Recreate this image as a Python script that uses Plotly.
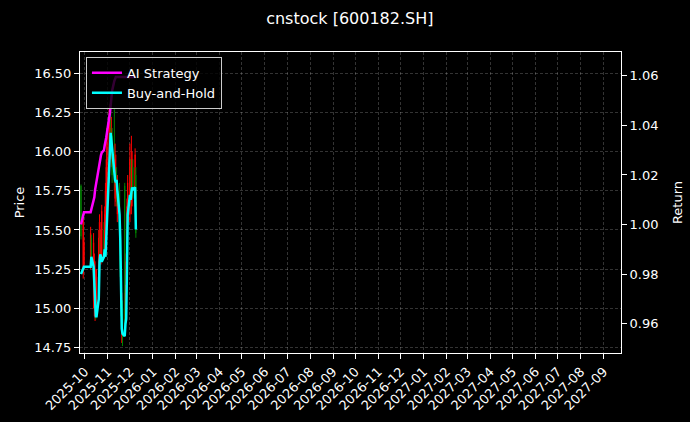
import plotly.graph_objects as go
from plotly.subplots import make_subplots

# trading days shown (Oct 1-8 is the National Day break)
dates = ["2025-09-26", "2025-09-29", "2025-09-30", "2025-10-09", "2025-10-10",
         "2025-10-13", "2025-10-14", "2025-10-15", "2025-10-16", "2025-10-17",
         "2025-10-20", "2025-10-21", "2025-10-22", "2025-10-23", "2025-10-24",
         "2025-10-27", "2025-10-28", "2025-10-29", "2025-10-30", "2025-10-31",
         "2025-11-03", "2025-11-04", "2025-11-05", "2025-11-06", "2025-11-07",
         "2025-11-10", "2025-11-11", "2025-11-12", "2025-11-13", "2025-11-14",
         "2025-11-17", "2025-11-18", "2025-11-19", "2025-11-20", "2025-11-21",
         "2025-11-24", "2025-11-25", "2025-11-26", "2025-11-27", "2025-11-28",
         "2025-12-01", "2025-12-02", "2025-12-03", "2025-12-04", "2025-12-05",
         "2025-12-08", "2025-12-09"]

opens = [15.78, 15.22, 15.28, 15.28, 15.45, 15.05, 15.00, 14.95, 15.10, 14.98,
         15.10, 15.30, 15.45, 15.30, 15.32, 15.50, 15.35, 15.40, 15.50, 15.60,
         15.85, 16.00, 16.25, 15.95, 16.10, 16.00, 15.70, 15.72, 15.85, 15.60,
         15.75, 15.50, 15.25, 14.85, 15.00, 15.78, 14.90, 14.95, 15.20, 15.55,
         15.60, 15.90, 15.65, 15.70, 15.90, 15.70, 15.85]
highs = [15.79, 15.60, 15.45, 15.52, 15.47, 15.48, 15.35, 15.30, 15.15, 15.25,
         15.50, 15.60, 15.50, 15.55, 15.66, 15.55, 15.65, 15.80, 15.95, 16.15,
         16.28, 16.30, 16.30, 16.22, 16.15, 16.27, 16.05, 15.98, 15.90, 15.85,
         15.80, 15.55, 15.30, 15.10, 15.05, 15.80, 15.15, 15.35, 15.70, 15.85,
         16.05, 15.95, 16.10, 16.00, 15.95, 16.02, 15.90]
lows = [15.44, 15.19, 15.25, 15.25, 15.30, 15.00, 14.95, 14.92, 14.93, 14.95,
        15.05, 15.28, 15.30, 15.28, 15.30, 15.33, 15.33, 15.38, 15.45, 15.58,
        15.80, 15.95, 16.00, 15.90, 15.80, 15.75, 15.65, 15.68, 15.65, 15.55,
        15.45, 15.20, 14.95, 14.78, 14.76, 14.88, 14.85, 14.92, 15.15, 15.50,
        15.55, 15.65, 15.60, 15.65, 15.70, 15.65, 15.45]
closes = [15.46, 15.56, 15.42, 15.48, 15.33, 15.42, 15.30, 15.25, 14.97, 15.20,
          15.45, 15.55, 15.32, 15.50, 15.62, 15.35, 15.60, 15.75, 15.90, 16.10,
          16.20, 16.20, 16.05, 16.15, 15.85, 15.80, 15.95, 15.90, 15.70, 15.80,
          15.50, 15.25, 15.00, 15.05, 14.85, 14.92, 15.10, 15.30, 15.65, 15.80,
          15.95, 15.70, 15.90, 15.95, 15.75, 15.98, 15.48]

ai_strategy = [1.000, 1.005, 1.005, 1.005, 1.006, 1.009, 1.011, 1.014, 1.016, 1.018,
               1.022, 1.024, 1.027, 1.028, 1.029, 1.030, 1.032, 1.033, 1.035, 1.037,
               1.042, 1.045, 1.048, 1.051, 1.054, 1.058, 1.0595, 1.0595, 1.0595, 1.0595,
               1.0595, 1.0595, 1.0595, 1.0595, 1.0595, 1.0595, 1.0595, 1.0595, 1.0595, 1.0595,
               1.0595, 1.0595, 1.0595, 1.0595, 1.0595, 1.0595, 1.0595]
buy_hold = [0.980, 0.983, 0.983, 0.983, 0.987, 0.983, 0.974, 0.968, 0.963, 0.963,
            0.970, 0.985, 0.988, 0.987, 0.985, 0.987, 0.990, 0.987, 0.994, 1.004,
            1.022, 1.034, 1.037, 1.034, 1.030, 1.022, 1.018, 1.017, 1.018, 1.014,
            1.004, 0.994, 0.970, 0.958, 0.956, 0.955, 0.960, 0.962, 0.982, 1.004,
            1.012, 1.010, 1.013, 1.015, 1.014, 1.015, 0.998]

price_ticks = [14.75, 15.00, 15.25, 15.50, 15.75, 16.00, 16.25, 16.50]
return_ticks = [0.96, 0.98, 1.00, 1.02, 1.04, 1.06]

FONT = "DejaVu Sans"
grid = "rgba(255,255,255,0.2)"

fig = make_subplots(specs=[[{"secondary_y": True}]])

fig.add_trace(go.Candlestick(
    x=dates, open=opens, high=highs, low=lows, close=closes,
    increasing=dict(line=dict(color="#ff0000", width=1), fillcolor="#ff0000"),
    decreasing=dict(line=dict(color="#008000", width=1), fillcolor="#008000"),
    showlegend=False, hoverinfo="skip"
), secondary_y=False)

fig.add_trace(go.Scatter(
    x=dates, y=ai_strategy, mode="lines", name="AI Strategy",
    line=dict(color="#ff00ff", width=2.5)
), secondary_y=True)

fig.add_trace(go.Scatter(
    x=dates, y=buy_hold, mode="lines", name="Buy-and-Hold",
    line=dict(color="#00ffff", width=2.5)
), secondary_y=True)

fig.update_layout(
    width=690, height=422,
    paper_bgcolor="black", plot_bgcolor="black",
    margin=dict(l=80, r=69, t=52, b=69),
    font=dict(family=FONT, size=13, color="white"),
    title=dict(text="cnstock [600182.SH]", x=0.507, xanchor="center",
               y=0.969, yanchor="top", yref="container",
               font=dict(size=16, color="white", family=FONT)),
    legend=dict(x=0.011, y=0.984, xanchor="left", yanchor="top",
                bgcolor="rgba(0,0,0,0.8)", bordercolor="#cccccc", borderwidth=1,
                font=dict(size=13, color="white", family=FONT)),
    showlegend=True,
)

fig.update_xaxes(
    type="date", range=["2025-09-24 16:00", "2027-09-24 10:00"],
    domain=[0, 1], rangeslider=dict(visible=False), automargin=False,
    dtick="M1", tick0="2025-10-01", tickformat="%Y-%m", tickangle=-45,
    showgrid=True, gridcolor=grid, griddash="3px,2px", gridwidth=0.7,
    showline=True, linecolor="white", linewidth=1, mirror=True,
    ticks="outside", ticklen=5, tickcolor="white",
    tickfont=dict(size=13, color="white"), zeroline=False,
)

fig.update_yaxes(
    range=[14.716, 16.634], tickvals=price_ticks, tickformat=".2f",
    title=dict(text="Price", font=dict(size=13, color="white"), standoff=6),
    showgrid=True, gridcolor=grid, griddash="3px,2px", gridwidth=0.7,
    showline=True, linecolor="white", linewidth=1, automargin=False,
    ticks="outside", ticklen=5, tickcolor="white", zeroline=False,
    secondary_y=False,
)

fig.update_yaxes(
    range=[0.9482, 1.0696], tickvals=return_ticks, tickformat=".2f",
    title=dict(text="Return", font=dict(size=13, color="white")),
    showgrid=False, automargin=False,
    showline=True, linecolor="white", linewidth=1,
    ticks="outside", ticklen=5, tickcolor="white", zeroline=False,
    secondary_y=True,
)

# drop the page's default 8px body margin so the figure sits at the window corner
fig.write_html("out.html",
               config={"displayModeBar": False},
               post_script="document.body.style.margin='0';"
                           "document.body.style.background='black';")
